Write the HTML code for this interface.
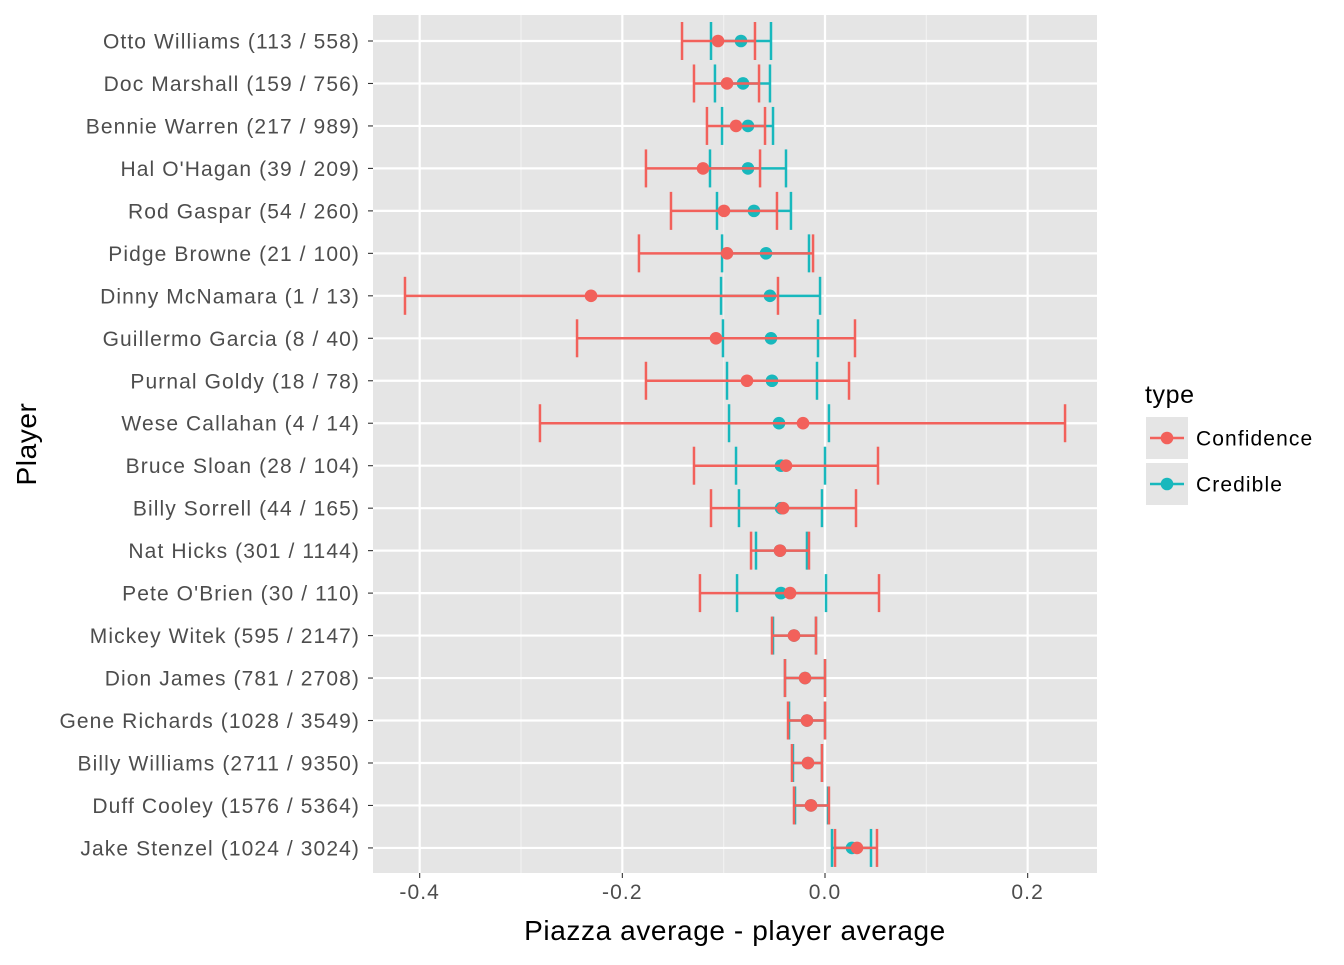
<!DOCTYPE html>
<html><head><meta charset="utf-8"><style>
body{margin:0;background:#fff}
svg text{font-family:"Liberation Sans",Arial,sans-serif}
.ls{letter-spacing:1.1px}
</style></head><body>
<svg width="1344" height="960" xmlns="http://www.w3.org/2000/svg">
<g id="plot"></g>
</svg>
<script>
const players=["Otto Williams (113 / 558)","Doc Marshall (159 / 756)","Bennie Warren (217 / 989)","Hal O'Hagan (39 / 209)","Rod Gaspar (54 / 260)","Pidge Browne (21 / 100)","Dinny McNamara (1 / 13)","Guillermo Garcia (8 / 40)","Purnal Goldy (18 / 78)","Wese Callahan (4 / 14)","Bruce Sloan (28 / 104)","Billy Sorrell (44 / 165)","Nat Hicks (301 / 1144)","Pete O'Brien (30 / 110)","Mickey Witek (595 / 2147)","Dion James (781 / 2708)","Gene Richards (1028 / 3549)","Billy Williams (2711 / 9350)","Duff Cooley (1576 / 5364)","Jake Stenzel (1024 / 3024)"];
const confLo=[-0.1411,-0.1293,-0.1165,-0.1767,-0.1520,-0.1836,-0.4145,-0.2447,-0.1767,-0.2813,-0.1293,-0.1125,-0.0730,-0.1234,-0.0523,-0.0395,-0.0365,-0.0326,-0.0306,0.0099];
const confHi=[-0.0691,-0.0651,-0.0592,-0.0641,-0.0474,-0.0118,-0.0464,0.0296,0.0237,0.2369,0.0523,0.0306,-0.0158,0.0533,-0.0089,0,0,-0.0030,0.0039,0.0513];
const confPt=[-0.1056,-0.0967,-0.0878,-0.1204,-0.0997,-0.0967,-0.2309,-0.1076,-0.0770,-0.0217,-0.0385,-0.0414,-0.0444,-0.0345,-0.0306,-0.0197,-0.0178,-0.0168,-0.0138,0.0316];
const credLo=[-0.1125,-0.1086,-0.1016,-0.1135,-0.1066,-0.1016,-0.1026,-0.1007,-0.0967,-0.0947,-0.0878,-0.0849,-0.0681,-0.0868,-0.0513,-0.0395,-0.0355,-0.0316,-0.0296,0.0069];
const credHi=[-0.0533,-0.0543,-0.0513,-0.0385,-0.0336,-0.0158,-0.0049,-0.0069,-0.0079,0.0039,0,-0.0030,-0.0178,0.0010,-0.0089,0,0,-0.0030,0.0030,0.0454];
const credPt=[-0.0829,-0.0809,-0.0760,-0.0760,-0.0701,-0.0582,-0.0543,-0.0533,-0.0523,-0.0454,-0.0434,-0.0434,-0.0444,-0.0434,-0.0306,-0.0197,-0.0178,-0.0168,-0.0138,0.0266];
const xTicks=[-0.4,-0.2,0.0,0.2];
const xTickLabels=["-0.4","-0.2","0.0","0.2"];
const xMinor=[-0.3,-0.1,0.1];

const NS="http://www.w3.org/2000/svg";
const g=document.getElementById('plot');
const L=373,R=1097,T=15,B=873;
const X=v=>825+v*1013.3;
const Y=i=>41+i*42.47;
function mk(tag,at,parent){const e=document.createElementNS(NS,tag);for(const k in at)e.setAttribute(k,at[k]);(parent||g).appendChild(e);return e;}
let e=mk('rect',{x:L,y:T,width:R-L,height:B-T,fill:'#e5e5e5'});


xMinor.forEach(v=>{const l=mk('line',{x1:X(v),x2:X(v),y1:T,y2:B,stroke:'#f2f2f2','stroke-width':1.1});

});
xTicks.forEach((v,i)=>{const l=mk('line',{x1:X(v),x2:X(v),y1:T,y2:B,stroke:'#fff','stroke-width':2.2});


const t=mk('line',{x1:X(v),x2:X(v),y1:B,y2:B+5,stroke:'#333','stroke-width':1.1});


const tx=mk('text',{x:X(v),y:B+26,'text-anchor':'middle','font-size':21,fill:'#4d4d4d','class':'ls'});tx.textContent=xTickLabels[i];

});
players.forEach((p,i)=>{const y=Y(i);
const l=mk('line',{x1:L,x2:R,y1:y,y2:y,stroke:'#fff','stroke-width':2.2});


const t=mk('line',{x1:L-5,x2:L,y1:y,y2:y,stroke:'#333','stroke-width':1.1});


const tx=mk('text',{x:L-13,y:y+7.5,'text-anchor':'end','font-size':21,fill:'#4d4d4d','class':'ls'});tx.textContent=p;

});
function series(lo,hi,pt,col,name){
 players.forEach((p,i)=>{const y=Y(i);
  const gg=mk('g',{stroke:col,'stroke-width':2.5,fill:'none'});
  
  
  mk('line',{x1:X(lo[i]),x2:X(hi[i]),y1:y,y2:y},gg);
  mk('line',{x1:X(lo[i]),x2:X(lo[i]),y1:y-19,y2:y+19},gg);
  mk('line',{x1:X(hi[i]),x2:X(hi[i]),y1:y-19,y2:y+19},gg);
 });
 players.forEach((p,i)=>{const c=mk('circle',{cx:X(pt[i]),cy:Y(i),r:6.3,fill:col});
  
  });
}
series(credLo,credHi,credPt,'#18b8bd','credible');
series(confLo,confHi,confPt,'#f2615b','confidence');
e=mk('text',{x:735,y:940,'text-anchor':'middle','font-size':28,fill:'#000','style':'letter-spacing:0.6px'});e.textContent='Piazza average - player average';


e=mk('text',{x:0,y:0,'text-anchor':'middle','font-size':28,fill:'#000','style':'letter-spacing:0.6px',transform:'translate(36,444) rotate(-90)'});e.textContent='Player';


e=mk('text',{x:1145,y:403,'font-size':25,fill:'#000','style':'letter-spacing:0.6px'});e.textContent='type';


[['Confidence','#f2615b',438],['Credible','#18b8bd',484]].forEach(([n,c,y])=>{
 const gg=mk('g',{});
 
 
 mk('rect',{x:1146,y:y-21,width:42,height:42,fill:'#e5e5e5'},gg);
 mk('line',{x1:1150,x2:1184,y1:y,y2:y,stroke:c,'stroke-width':2.5},gg);
 mk('circle',{cx:1167,cy:y,r:6.3,fill:c},gg);
 const t=mk('text',{x:1196,y:y+7.5,'font-size':21,fill:'#000','style':'letter-spacing:1.1px'},gg);t.textContent=n;
});
</script>
</body></html>
